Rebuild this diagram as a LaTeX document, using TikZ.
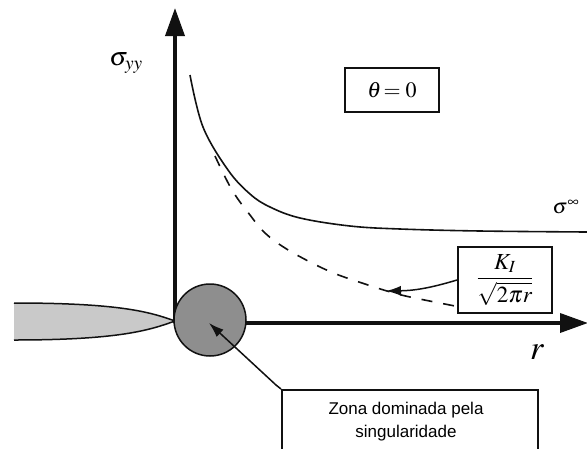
\documentclass[tikz,border=0pt]{standalone}
\usepackage{amsmath}
\usepackage{mathptmx}
\usepackage{fontspec}
\setmainfont{Liberation Serif}
\newfontfamily\arialfont{Liberation Sans}
\usetikzlibrary{arrows.meta,positioning,calc}
\definecolor{ink}{HTML}{111111}
\definecolor{zonegray}{HTML}{8E8E8E}
\definecolor{crackgray}{HTML}{C9C9C9}

\begin{document}
\begin{tikzpicture}[x=1pt,y=-1pt,axis/.style={line width=3.6pt,ink,-{Triangle[length=28pt,width=19pt]}},curve/.style={line width=1.6pt,ink},box/.style={draw=ink,line width=2pt,inner sep=0pt},link/.style={line width=1.5pt,ink,-{Latex[length=15pt,width=10pt]}}]
\clip (0,0) rectangle (587,448);
\coordinate (tip) at (175,321);
% crack
\fill[crackgray] (14,303) .. controls (120,303) and (150,312) .. (tip) .. controls (150,330) and (120,340) .. (14,340) -- cycle;
\draw[line width=1.5pt,ink] (14,303) .. controls (120,303) and (150,312) .. (tip) .. controls (150,330) and (120,340) .. (14,340);
% axes
\draw[axis] (175,323) -- (175,8);
\draw[axis] (175,323) -- (588,323);
% curves
\draw[curve] plot[smooth,tension=0.6] coordinates {(190,75) (203,127) (228,170) (250,194) (270,207) (300,218) (350,226) (400,229) (480,231) (587,232)};
\draw[curve,dash pattern=on 11pt off 11pt] plot[smooth,tension=0.6] coordinates {(215,156) (232,190) (250,215) (265,233) (285,248) (312,263) (336,274) (362,283) (387,291) (410,297) (455,306)};
% zone
\node[circle,fill=zonegray,draw=ink,line width=1.5pt,minimum size=72pt,inner sep=0pt] (zone) at (210,320) {};
% labels
\node (syy) at (126,63) {\fontsize{26}{28}\selectfont $\sigma_{yy}$};
\node (sinf) at (566,207) {\fontsize{21}{22}\selectfont $\sigma^{\infty}$};
\node (rlab) at (537,352) {\fontsize{34}{36}\selectfont $r$};
\node[box,minimum width=94pt,minimum height=44pt] (thetabox) at (392,90) {\fontsize{22}{24}\selectfont $\theta\!= 0$};
\node[box,minimum width=94pt,minimum height=66pt,fill=white] (kbox) at (505,280) {\fontsize{23}{25}\selectfont $\dfrac{K_{I}}{\sqrt{2\pi r}}$};
\node[box,line width=1.5pt,minimum width=256pt,minimum height=80pt,anchor=north west] (zonabox) at (281,389) {};
\node[font=\arialfont\fontsize{17}{23}\selectfont,align=center] (zona) at (406,422) {Zona dominada pela\\singularidade};
% arrows
\coordinate (kend) at (386,291);
\draw[link] (kbox.west) to[bend left=8] (kend);
\draw[link] (zonabox.north west) -- (276,385) -- (209,323);
\end{tikzpicture}
\end{document}
